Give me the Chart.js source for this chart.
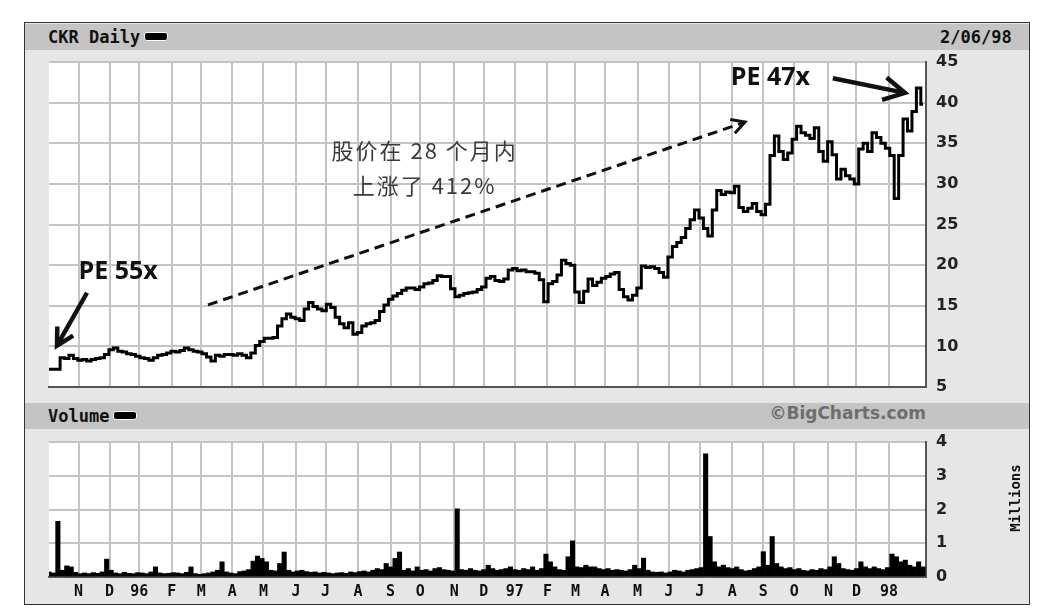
<!DOCTYPE html>
<html><head><meta charset="utf-8">
<script src="https://cdn.jsdelivr.net/npm/chart.js@4.4.1/dist/chart.umd.min.js"></script>
<style>
html,body{margin:0;padding:0;background:#fff;}
body{width:1038px;height:611px;overflow:hidden;position:relative;}
#frame{position:absolute;left:24px;top:22px;width:1004px;height:581px;border:1px solid #333;background:#e6e6e6;}
.bar{position:absolute;left:0;width:1004px;height:26px;background:#c4c4c4;}
.mono{position:absolute;font:bold 17px 'DejaVu Sans Mono',monospace;color:#111;line-height:26px;top:0;white-space:nowrap;}
.sw{display:inline-block;width:22px;height:7px;background:#000;border-radius:3px;border:1px solid #fff;vertical-align:middle;margin-left:4px;position:relative;top:-2px;}
.copy{position:absolute;top:0;right:103px;line-height:26px;font:bold 17px 'DejaVu Sans',sans-serif;color:#6e6e6e;}
#mil{position:absolute;left:950px;top:467px;width:80px;text-align:center;transform:rotate(-90deg);font:bold 14px 'DejaVu Sans Mono',monospace;color:#111;}
canvas{position:absolute;left:0;}
</style></head>
<body>
<div id="frame">
  <div class="bar" style="top:1px">
    <span class="mono" style="left:23px">CKR Daily<span class="sw"></span></span>
    <span class="mono" style="left:915px">2/06/98</span>
  </div>
  <canvas id="price" width="1004" height="349" style="top:28px"></canvas>
  <div class="bar" style="top:380px">
    <span class="mono" style="left:23px">Volume<span class="sw"></span></span>
    <span class="copy">©BigCharts.com</span>
  </div>
  <canvas id="vol" width="1004" height="174" style="top:407px"></canvas>
  <div id="mil">Millions</div>
</div>
<script>
// trading-day index of each month start (day 0 = Oct 3 1995, last day 593 = Feb 6 1998)
const monthStarts = [20,41,61,83,103,124,145,167,187,209,231,251,274,294,315,337,356,376,398,419,440,462,483,504,527,546,568];
const monthLabels = ['N','D','96','F','M','A','M','J','J','A','S','O','N','D','97','F','M','A','M','J','J','A','S','O','N','D','98'];
const lastDay = 593;
const sampleStep = 3; // one value every 3 trading days
const priceTicks = [5,10,15,20,25,30,35,40,45];
const volumeTicks = [0,1,2,3,4];

// CKR closing price, every 3 trading days
const closes = [
 7.2,7.2,7.2,8.6,8.5,8.9,8.5,8.3,8.4,8.2,
 8.4,8.5,8.6,9.0,9.6,9.8,9.4,9.3,9.1,9.0,
 8.8,8.6,8.5,8.3,8.6,8.9,9.0,9.2,9.4,9.3,
 9.5,9.8,9.6,9.4,9.3,9.1,8.7,8.2,8.9,8.8,
 9.0,9.0,8.9,9.1,8.9,8.6,9.2,10.1,10.6,11.0,
 11.0,11.1,12.5,13.4,14.0,13.6,13.4,13.2,14.6,15.4,
 14.9,14.6,14.4,15.2,14.8,13.6,12.8,12.3,12.9,11.5,
 11.7,12.5,12.8,12.9,13.2,14.3,15.1,15.8,16.2,16.5,
 16.9,17.2,17.2,17.0,17.3,17.7,17.8,18.1,18.7,18.6,
 18.6,17.1,16.1,16.3,16.5,16.6,16.7,17.0,17.3,18.4,
 18.6,18.1,18.0,18.3,19.4,19.6,19.3,19.4,19.2,19.2,
 19.0,18.2,15.5,17.7,18.0,18.8,20.6,20.2,20.0,16.7,
 15.4,16.8,18.3,17.5,17.9,18.4,18.6,18.9,19.1,17.0,
 16.1,15.7,16.3,17.2,19.9,19.7,19.8,19.6,19.1,18.5,
 21.0,22.3,22.8,23.4,24.5,25.6,26.8,25.8,24.5,23.6,
 26.8,29.2,28.7,29.0,28.9,29.7,27.1,26.6,27.0,27.6,
 26.6,26.2,27.5,33.5,35.9,34.0,33.0,33.8,35.5,37.1,
 36.3,36.0,35.6,36.9,34.0,32.8,35.2,33.6,30.6,31.8,
 31.0,30.6,30.0,34.3,35.0,34.0,36.3,35.7,35.0,34.4,
 33.5,28.2,33.5,38.0,36.5,38.9,41.8,39.8
];

// volume in millions, every 3 trading days
const volumes = [
 0.15,0.12,1.65,0.2,0.33,0.3,0.14,0.1,0.12,0.1,
 0.13,0.11,0.15,0.53,0.2,0.12,0.1,0.14,0.11,0.1,
 0.13,0.12,0.1,0.15,0.3,0.12,0.1,0.11,0.13,0.12,
 0.1,0.14,0.3,0.1,0.08,0.1,0.12,0.15,0.2,0.45,
 0.15,0.12,0.1,0.16,0.18,0.22,0.47,0.62,0.55,0.45,
 0.2,0.18,0.4,0.74,0.2,0.15,0.18,0.2,0.16,0.14,
 0.15,0.12,0.14,0.12,0.1,0.12,0.13,0.11,0.15,0.13,
 0.16,0.18,0.15,0.2,0.25,0.22,0.4,0.3,0.55,0.74,
 0.2,0.25,0.18,0.3,0.2,0.22,0.18,0.25,0.28,0.22,
 0.2,0.18,2.02,0.22,0.2,0.25,0.2,0.18,0.22,0.35,
 0.25,0.2,0.22,0.25,0.3,0.22,0.2,0.25,0.22,0.3,
 0.2,0.25,0.68,0.45,0.3,0.22,0.2,0.6,1.07,0.3,
 0.28,0.35,0.3,0.3,0.25,0.22,0.25,0.2,0.22,0.2,
 0.18,0.22,0.35,0.25,0.56,0.2,0.15,0.14,0.15,0.12,
 0.15,0.2,0.18,0.15,0.2,0.22,0.25,0.28,3.65,1.2,
 0.45,0.3,0.35,0.28,0.25,0.3,0.22,0.18,0.2,0.25,
 0.3,0.75,0.35,1.2,0.4,0.3,0.25,0.28,0.22,0.25,
 0.2,0.18,0.22,0.2,0.25,0.22,0.3,0.6,0.4,0.25,
 0.22,0.2,0.25,0.45,0.3,0.25,0.3,0.25,0.22,0.28,
 0.68,0.6,0.45,0.5,0.35,0.3,0.45,0.3
];

// annotations, in data units (trading day, price)
const annoTexts = [
 {text:'PE 55x', day:20, price:19.2, font:'bold 25px "Open Sans"', color:'#111', align:'left', spacing:'0px'},
 {text:'PE 47x', day:461, price:43.1, font:'bold 25px "Open Sans"', color:'#111', align:'left', spacing:'0px'},
 {text:'股价在 28 个月内', day:254, price:34.1, font:'22px "Noto Sans CJK SC"', color:'#3a3a3a', align:'center', spacing:'2px'},
 {text:'上涨了 412%', day:254, price:29.8, font:'22px "Noto Sans CJK SC"', color:'#3a3a3a', align:'center', spacing:'2px'}
];
const annoArrows = [
 {from:[25.7,16.6], to:[5.4,10.1], width:4.5, head:19, dash:[]},
 {from:[530,43.0], to:[578.8,41.2], width:4.5, head:24, dash:[]},
 {from:[107.5,15.1], to:[470.6,37.6], width:3, head:15, dash:[10,6]}
];

const gridColor = '#c4c4c4';
const axisFont = {family:'DejaVu Sans', size:16, weight:'bold'};

const bgPlugin = {
  id:'bg',
  beforeDraw(chart){
    const {ctx, chartArea:a} = chart;
    ctx.save(); ctx.fillStyle='#fff';
    ctx.fillRect(a.left, a.top, a.right-a.left, a.bottom-a.top);
    ctx.restore();
  }
};

const annoPlugin = {
  id:'anno',
  afterDatasetsDraw(chart){
    const ctx = chart.ctx, xs = chart.scales.x, ys = chart.scales.y;
    ctx.save();
    annoArrows.forEach(a=>{
      const x1=xs.getPixelForValue(a.from[0]), y1=ys.getPixelForValue(a.from[1]);
      const x2=xs.getPixelForValue(a.to[0]), y2=ys.getPixelForValue(a.to[1]);
      ctx.strokeStyle='#111'; ctx.lineWidth=a.width; ctx.lineCap='butt'; ctx.lineJoin='miter';
      ctx.setLineDash(a.dash);
      ctx.beginPath(); ctx.moveTo(x1,y1); ctx.lineTo(x2,y2); ctx.stroke();
      ctx.setLineDash([]);
      const ang=Math.atan2(y2-y1,x2-x1);
      ctx.beginPath();
      ctx.moveTo(x2-a.head*Math.cos(ang-0.5), y2-a.head*Math.sin(ang-0.5));
      ctx.lineTo(x2,y2);
      ctx.lineTo(x2-a.head*Math.cos(ang+0.5), y2-a.head*Math.sin(ang+0.5));
      ctx.stroke();
    });
    annoTexts.forEach(t=>{
      ctx.font=t.font; ctx.fillStyle=t.color; ctx.textAlign=t.align; ctx.textBaseline='middle';
      ctx.letterSpacing=t.spacing;
      ctx.fillText(t.text, xs.getPixelForValue(t.day), ys.getPixelForValue(t.price));
    });
    ctx.restore();
  }
};

function monthTicks(scale){ scale.ticks = monthStarts.map(v=>({value:v})); }
function rightAxisFit(s){ s.width = 59; s.paddingTop = 0; s.paddingBottom = 0; }

new Chart(document.getElementById('price'), {
  type:'line',
  data:{datasets:[{
    data: closes.map((v,i)=>({x:i*sampleStep, y:v})),
    borderColor:'#000', borderWidth:3, pointRadius:0, tension:0, fill:false,
    stepped:'middle', borderJoinStyle:'miter'
  }]},
  options:{
    responsive:false, animation:false, parsing:false,
    layout:{padding:{left:24, top:11, bottom:13, right:44}},
    plugins:{legend:{display:false}, tooltip:{enabled:false}},
    scales:{
      x:{type:'linear', min:0, max:lastDay, offset:false, afterBuildTicks:monthTicks,
         afterFit:s=>{s.height=0; s.paddingLeft=0; s.paddingRight=0;},
         ticks:{display:false}, grid:{color:gridColor, lineWidth:2, drawTicks:false, offset:false},
         border:{display:true, color:'#555', width:2}},
      y:{position:'right', min:5, max:45, afterBuildTicks:s=>{s.ticks=priceTicks.map(v=>({value:v}));},
         afterFit:rightAxisFit,
         ticks:{padding:10, font:axisFont, color:'#222'},
         grid:{color:gridColor, lineWidth:2, drawTicks:false},
         border:{display:true, color:'#555', width:2}}
    }
  },
  plugins:[bgPlugin, annoPlugin]
});

new Chart(document.getElementById('vol'), {
  type:'bar',
  data:{datasets:[{
    data: volumes.map((v,i)=>({x:i*sampleStep, y:v})),
    backgroundColor:'#000', borderWidth:0, barPercentage:1, categoryPercentage:1
  }]},
  options:{
    responsive:false, animation:false, parsing:false,
    layout:{padding:{left:24, top:12, bottom:0, right:44}},
    plugins:{legend:{display:false}, tooltip:{enabled:false}},
    scales:{
      x:{type:'linear', min:0, max:lastDay, offset:false, afterBuildTicks:monthTicks,
         afterFit:s=>{s.height=27; s.paddingLeft=0; s.paddingRight=0;},
         ticks:{autoSkip:false, maxRotation:0, padding:6, color:'#111',
                font:{family:'DejaVu Sans Mono', size:15, weight:'bold'},
                callback:(v,i)=>monthLabels[i]},
         grid:{color:gridColor, lineWidth:2, drawTicks:false, offset:false},
         border:{display:true, color:'#555', width:2}},
      y:{position:'right', min:0, max:4, afterBuildTicks:s=>{s.ticks=volumeTicks.map(v=>({value:v}));},
         afterFit:rightAxisFit,
         ticks:{padding:10, font:axisFont, color:'#222'},
         grid:{color:gridColor, lineWidth:2, drawTicks:false},
         border:{display:true, color:'#555', width:2}}
    }
  },
  plugins:[bgPlugin]
});
</script>
</body></html>
